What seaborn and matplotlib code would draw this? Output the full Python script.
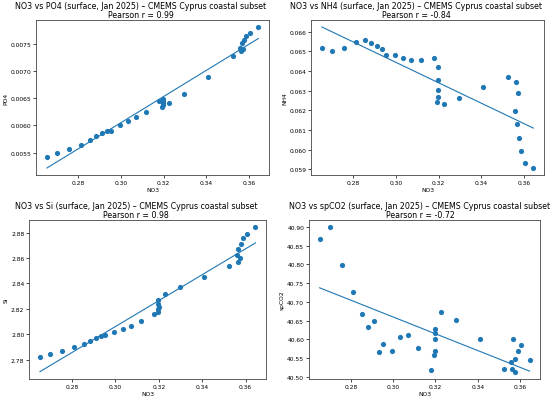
import numpy as np
import pandas as pd
import matplotlib
matplotlib.use("Agg")
import matplotlib.pyplot as plt
import seaborn as sns

# Data (surface, Jan 2025, CMEMS Cyprus coastal subset)
no3 = [0.2652, 0.2700, 0.2756, 0.2811, 0.2854, 0.2881, 0.2911, 0.2935,
       0.2953, 0.2993, 0.3033, 0.3071, 0.3116, 0.3179, 0.3198, 0.3197,
       0.3199, 0.3197, 0.3194, 0.3227, 0.3298, 0.3409, 0.3525, 0.3558,
       0.3564, 0.3566, 0.3575, 0.3577, 0.3589, 0.3606, 0.3645]
po4 = [0.005426, 0.005500, 0.005574, 0.005636, 0.005735, 0.005803,
       0.005859, 0.005896, 0.005902, 0.006008, 0.006082, 0.006150,
       0.006249, 0.006450, 0.006490, 0.006460, 0.006420, 0.006380,
       0.006340, 0.006410, 0.006590, 0.006900, 0.007283, 0.007430,
       0.007380, 0.007520, 0.007410, 0.007570, 0.007650, 0.007700,
       0.007820]
nh4 = [0.06518, 0.06503, 0.06518, 0.06549, 0.06561, 0.06544, 0.06528,
       0.06513, 0.06484, 0.06480, 0.06468, 0.06458, 0.06455, 0.06467,
       0.06422, 0.06356, 0.06306, 0.06267, 0.06241, 0.06234, 0.06263,
       0.06320, 0.06371, 0.06198, 0.06344, 0.06129, 0.06289, 0.06060,
       0.05992, 0.05932, 0.05906]
si = [2.7819, 2.7844, 2.7868, 2.7895, 2.7920, 2.7944, 2.7966, 2.7985,
      2.7996, 2.8015, 2.8037, 2.8067, 2.8105, 2.8160, 2.8271, 2.8237,
      2.8213, 2.8196, 2.8178, 2.8315, 2.8375, 2.8451, 2.8536, 2.8628,
      2.8571, 2.8675, 2.8601, 2.8713, 2.8757, 2.8792, 2.8846]
spco2 = [40.867, 40.900, 40.799, 40.726, 40.667, 40.632, 40.650, 40.567,
         40.588, 40.569, 40.606, 40.613, 40.576, 40.519, 40.628, 40.616,
         40.600, 40.570, 40.558, 40.672, 40.652, 40.600, 40.521, 40.540,
         40.520, 40.602, 40.514, 40.547, 40.570, 40.584, 40.544]

df = pd.DataFrame({
    "NO3": no3,
    "PO4": po4,
    "NH4": nh4,
    "Si": si,
    "spCO2": spco2
})
targets = ["PO4", "NH4", "Si", "spCO2"]

# axes boxes [left, bottom, width, height] in figure fractions
boxes = [
    [0.066, 0.562, 0.423, 0.386],
    [0.566, 0.562, 0.423, 0.386],
    [0.053, 0.055, 0.431, 0.396],
    [0.562, 0.055, 0.420, 0.396],
]
title_x = [0.45, 0.45, 0.45, 0.48]

plt.rcParams["axes.linewidth"] = 0.6
plt.rcParams["xtick.major.width"] = 0.5
plt.rcParams["ytick.major.width"] = 0.5
plt.rcParams["xtick.major.size"] = 2.0
plt.rcParams["ytick.major.size"] = 2.0

fig = plt.figure(figsize=(5.5, 4.02), dpi=100)

for box, var, tx in zip(boxes, targets, title_x):
    ax = fig.add_axes(box)
    x = df["NO3"].values
    y = df[var].values
    r = np.corrcoef(x, y)[0, 1]
    slope, intercept = np.polyfit(x, y, 1)
    xs = np.sort(x)
    sns.scatterplot(
        data=df,
        x="NO3",
        y=var,
        ax=ax,
        s=14,
        color="#1f77b4",
        linewidth=0
    )
    ax.plot(xs, slope * xs + intercept, color="#1f77b4", linewidth=0.8)
    ax.set_title(
        f"NO3 vs {var} (surface, Jan 2025) – CMEMS Cyprus coastal subset\n"
        f"Pearson r = {r:.2f}",
        fontsize=5.7,
        pad=2,
        linespacing=1.0,
        x=tx
    )
    ax.set_xlabel("NO3", fontsize=4.3, labelpad=1.5)
    ax.set_ylabel(var, fontsize=4.3, labelpad=1.5)
    ax.tick_params(labelsize=4.3, pad=1.5)
    for sp in ax.spines.values():
        sp.set_color("#444444")

plt.savefig("out.png", dpi=100)
